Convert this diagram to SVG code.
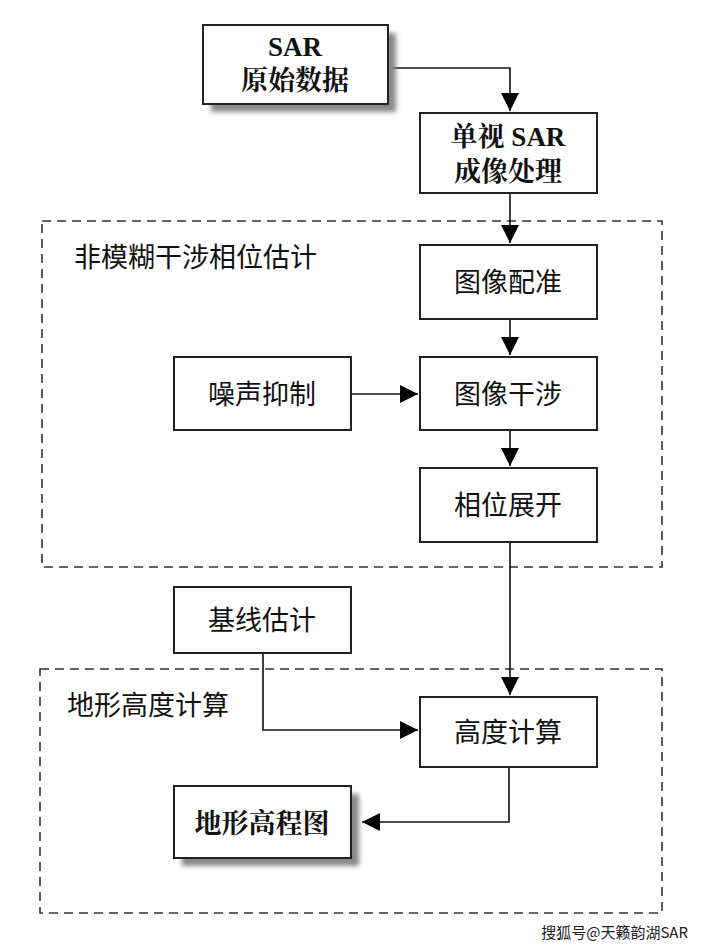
<svg xmlns="http://www.w3.org/2000/svg" width="702" height="947" viewBox="0 0 702 947">
<defs>
<style>
.box{fill:#fff;stroke:#222;stroke-width:2}
.grp{fill:none;stroke:#333;stroke-width:1.6;stroke-dasharray:9 6}
.t{font-family:"Noto Sans CJK SC","Liberation Sans",sans-serif;font-size:27px;fill:#111;text-anchor:middle}
.b{font-weight:bold}
.s{font-family:"Liberation Serif","Noto Serif CJK SC",serif;font-weight:bold}
.lbl{font-family:"Noto Sans CJK SC",sans-serif;font-size:27px;fill:#111}
.c{fill:none;stroke:#111;stroke-width:1.6}
.wm{font-family:"Noto Sans CJK SC",sans-serif;font-size:15px;fill:#222}
</style>
<filter id="sh" x="-20%" y="-20%" width="140%" height="140%"><feGaussianBlur stdDeviation="2.5"/></filter>
<marker id="ah" viewBox="0 0 10 10" refX="10" refY="5" markerWidth="18" markerHeight="18" markerUnits="userSpaceOnUse" orient="auto"><path d="M0,0 L10,5 L0,10 z" fill="#000"/></marker>
</defs>
<rect width="702" height="947" fill="#fff"/>
<g id="group1"><rect class="grp" x="42" y="221" width="620" height="346"/><text class="lbl" x="74" y="267">非模糊干涉相位估计</text></g>
<g id="group2"><rect class="grp" x="40" y="669" width="622" height="244"/><text class="lbl" x="67" y="715">地形高度计算</text></g>
<g id="connectors">
<path class="c" d="M388,68 H510 V111" marker-end="url(#ah)"/>
<path class="c" d="M510,193 V243" marker-end="url(#ah)"/>
<path class="c" d="M510,319 V355" marker-end="url(#ah)"/>
<path class="c" d="M510,430 V466" marker-end="url(#ah)"/>
<path class="c" d="M510,542 V695" marker-end="url(#ah)"/>
<path class="c" d="M351,394 H418" marker-end="url(#ah)"/>
<path class="c" d="M263,653 V730 H418" marker-end="url(#ah)"/>
<path class="c" d="M509,767 V822 H362" marker-end="url(#ah)"/>
</g>
<g id="n1"><rect x="211" y="33" width="185" height="79" fill="#888" filter="url(#sh)"/><rect class="box" x="203" y="25" width="185" height="79"/><text class="t s" x="295" y="56" font-size="27">SAR</text><text class="t b" x="295" y="90" style="font-family:'Noto Serif CJK SC','Noto Sans CJK SC',serif">原始数据</text></g>
<g id="n2"><rect class="box" x="420" y="113" width="177" height="80"/><text class="t" x="508" y="146"><tspan class="b" style="font-family:'Noto Serif CJK SC','Noto Sans CJK SC',serif">单视 </tspan><tspan class="s">SAR</tspan></text><text class="t b" x="508" y="181" style="font-family:'Noto Serif CJK SC','Noto Sans CJK SC',serif">成像处理</text></g>
<g id="n3"><rect class="box" x="420" y="245" width="177" height="74"/><text class="t" x="508" y="292">图像配准</text></g>
<g id="n4"><rect class="box" x="174" y="357" width="177" height="73"/><text class="t" x="262" y="404">噪声抑制</text></g>
<g id="n5"><rect class="box" x="420" y="357" width="177" height="73"/><text class="t" x="508" y="404">图像干涉</text></g>
<g id="n6"><rect class="box" x="420" y="468" width="177" height="74"/><text class="t" x="508" y="515">相位展开</text></g>
<g id="n7"><rect class="box" x="174" y="587" width="177" height="66"/><text class="t" x="262" y="630">基线估计</text></g>
<g id="n8"><rect class="box" x="420" y="697" width="177" height="70"/><text class="t" x="508" y="742">高度计算</text></g>
<g id="n9"><rect x="182" y="794" width="177" height="72" fill="#888" filter="url(#sh)"/><rect class="box" x="174" y="786" width="177" height="72"/><text class="t b" x="262" y="833" style="font-family:'Noto Serif CJK SC','Noto Sans CJK SC',serif">地形高程图</text></g>
<text class="wm" x="688" y="938" text-anchor="end">搜狐号@天籁韵湖SAR</text>
</svg>
